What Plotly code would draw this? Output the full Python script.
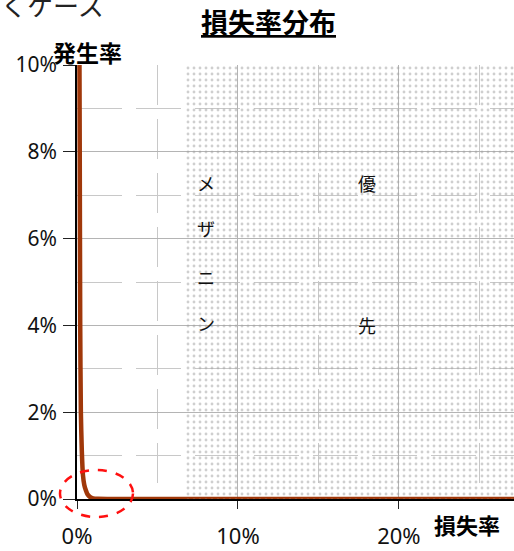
import plotly.graph_objects as go

# Loss-rate distribution (percent units)
loss_rate = [0.12, 0.17, 0.20, 0.24, 0.30, 0.37, 0.45, 0.55, 0.65, 0.80, 1.0, 1.3, 2.0, 5.0, 10.0, 15.0, 20.0, 27.2]
occurrence = [14.0, 8.0, 4.0, 2.0, 1.1, 0.55, 0.33, 0.20, 0.11, 0.05, 0.015, 0.004, 0.001, 0, 0, 0, 0, 0]

# Senior / mezzanine tranche band (shaded)
band_x = [6.7, 27.2, 27.2, 6.7, 6.7]
band_y = [0, 0, 10, 10, 0]

x_ticks = [0, 10, 20]
x_tick_text = ["0%", "10%", "20%"]
y_ticks = [0, 2, 4, 6, 8, 10]
y_tick_text = ["0%", "2%", "4%", "6%", "8%", "10%"]

mezz_chars = ["メ", "ザ", "ニ", "ン"]
mezz_y = [7.29, 6.25, 5.12, 4.05]
senior_chars = ["優", "先"]
senior_y = [7.29, 4.0]

JP = "Noto Sans CJK JP"
LAT = "Noto Sans, Open Sans, sans-serif"

fig = go.Figure()

fig.add_trace(go.Scatter(
    x=loss_rate, y=occurrence, mode="lines",
    line=dict(color="#a0380a", width=4.5, shape="spline", smoothing=0.6),
    hoverinfo="skip", showlegend=False,
))

fig.add_trace(go.Scatter(
    x=band_x, y=band_y, mode="lines", fill="toself",
    line=dict(width=0), fillcolor="rgba(0,0,0,0)",
    fillpattern=dict(shape=".", size=6, solidity=0.18, fgcolor="#a0a0a0",
                     bgcolor="rgba(0,0,0,0)", fillmode="overlay"),
    hoverinfo="skip", showlegend=False,
))

fig.update_xaxes(
    range=[0, 27.15], tickvals=x_ticks, ticktext=x_tick_text,
    showgrid=True, gridcolor="#b4b4b4", gridwidth=1,
    minor=dict(dtick=5, tick0=0, showgrid=True, gridcolor="#c8c8c8",
               griddash="40px,14px", ticks=""),
    ticks="outside", ticklen=8, tickcolor="#222", tickwidth=1,
    ticklabelstandoff=9, automargin=False,
    showline=True, linecolor="#000", linewidth=2,
    tickfont=dict(family=LAT, size=22, color="#111"),
    zeroline=False, fixedrange=True,
)
fig.update_yaxes(
    range=[0, 10], tickvals=y_ticks, ticktext=y_tick_text,
    showgrid=True, gridcolor="#b4b4b4", gridwidth=1,
    minor=dict(dtick=1, tick0=0, showgrid=True, gridcolor="#c8c8c8",
               griddash="45px,14px", ticks=""),
    ticks="outside", ticklen=12, tickcolor="#222", tickwidth=1,
    ticklabelstandoff=2, automargin=False,
    showline=True, linecolor="#000", linewidth=1.5,
    tickfont=dict(family=LAT, size=21, color="#111"),
    zeroline=False, fixedrange=True,
)

annotations = []
for ch, yy in zip(mezz_chars, mezz_y):
    annotations.append(dict(x=8.0, y=yy, xref="x", yref="y", text=ch,
                            showarrow=False, font=dict(family=JP, size=18, color="#111")))
for ch, yy in zip(senior_chars, senior_y):
    annotations.append(dict(x=18.0, y=yy, xref="x", yref="y", text=ch,
                            showarrow=False, font=dict(family=JP, size=18, color="#111")))

# Title and axis captions
annotations += [
    dict(x=268, y=21, text="<u><b>損失率分布</b></u>", showarrow=False,
         font=dict(family=JP, size=27, color="#000")),
    dict(x=87, y=52, text="<b>発生率</b>", showarrow=False,
         font=dict(family=JP, size=23, color="#000")),
    dict(x=467, y=524, text="<b>損失率</b>", showarrow=False,
         font=dict(family=JP, size=22, color="#000")),
    dict(x=52, y=4, text="くケース", showarrow=False,
         font=dict(family=JP, size=26, color="#222")),
]

# Convert pixel-positioned captions to paper coordinates
L, R, T, B, W, H = 77, 0, 65, 52, 514, 551
pw, ph = W - L - R, H - T - B
for a in annotations:
    if a.get("xref") == "x":
        continue
    px, py = a["x"], a["y"]
    a["xref"], a["yref"] = "paper", "paper"
    a["x"] = (px - L) / pw
    a["y"] = (H - B - py) / ph
    a["xanchor"], a["yanchor"] = "center", "middle"

fig.update_layout(
    width=W, height=H,
    margin=dict(l=L, r=R, t=T, b=B, pad=0, autoexpand=False),
    paper_bgcolor="white", plot_bgcolor="white",
    annotations=annotations,
    shapes=[dict(type="circle", xref="paper", yref="paper",
                 x0=(60 - L) / pw, x1=(133 - L) / pw,
                 y0=(H - B - 517) / ph, y1=(H - B - 470) / ph,
                 line=dict(color="#ff1010", width=2.5, dash="dash"),
                 layer="above")],
)

fig.write_html("out.html")
